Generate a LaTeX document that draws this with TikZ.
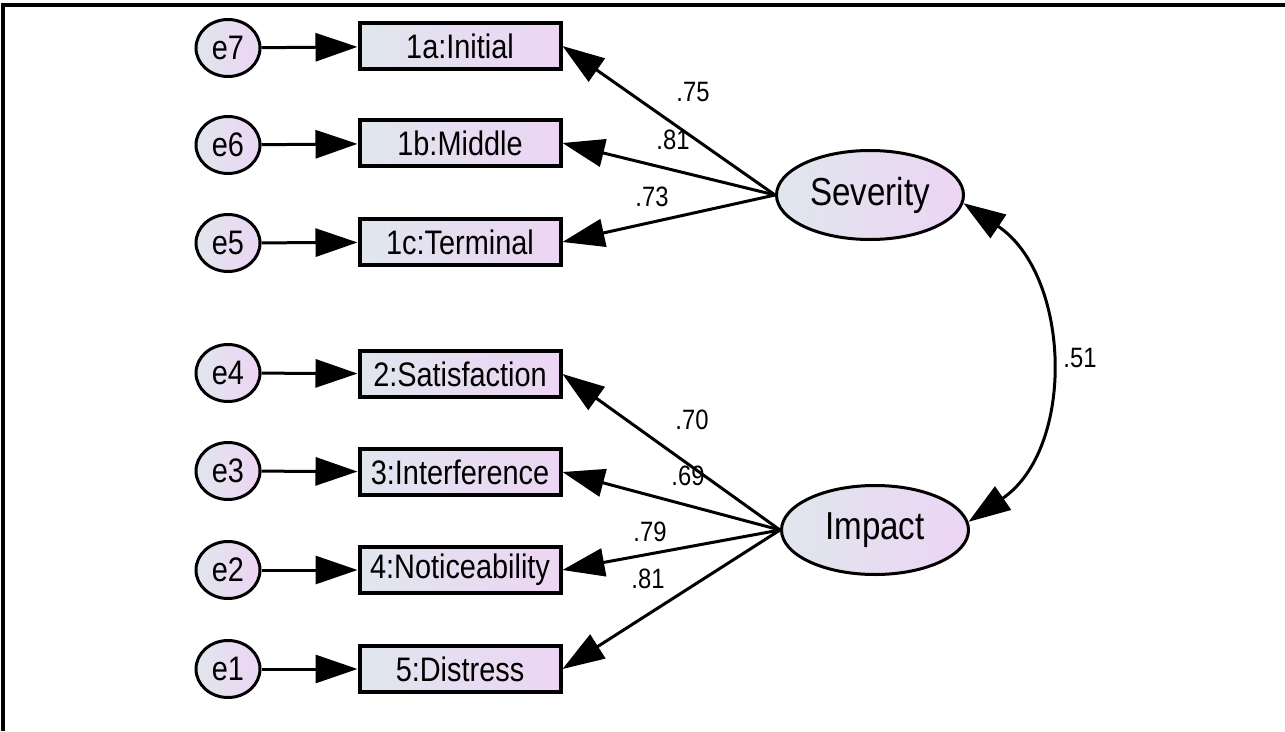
\documentclass[tikz,border=0pt]{standalone}
\usepackage{fontspec}
\setmainfont[FakeStretch=0.85]{Liberation Sans}
\usepackage{xcolor}
\usepackage{tikz}
\usetikzlibrary{positioning}
\usetikzlibrary{arrows.meta}
\usetikzlibrary{shapes.geometric}
\definecolor{paleblue}{RGB}{224,230,238}
\definecolor{palepink}{RGB}{236,213,243}
\tikzset {
  >={Triangle[length=42pt, width=28pt]},
  % measured variables
  observed/.style = {draw, rectangle, line width=4pt, minimum width=201pt, minimum height=46pt,
    inner sep=0pt, left color=paleblue, right color=palepink, font=\fontsize{34}{40}\selectfont},
  % error terms
  errvar/.style = {draw, ellipse, line width=3pt, minimum width=64pt, minimum height=57pt,
    inner sep=0pt, left color=paleblue, right color=palepink, font=\fontsize{34}{40}\selectfont},
  % latent factors
  latent/.style = {draw, ellipse, line width=3pt, minimum width=187pt, minimum height=89pt,
    inner sep=0pt, left color=paleblue, right color=palepink, font=\fontsize{39}{44}\selectfont},
  % regression weights and covariance
  loading/.style = {->, line width=3pt},
  coef/.style = {inner sep=0pt, font=\fontsize{28}{32}\selectfont},
}

\begin{document}
\begin{tikzpicture}[x=1pt, y=-1pt]
        \useasboundingbox (0,0) rectangle (1285,731);
        \draw [line width=4pt] (3,731) -- (3,5) -- (1285,5);

        \node[observed] (v1a) at (460, 46) {1a:Initial};
        \node[observed] (v1b) at (460, 143) {1b:Middle};
        \node[observed] (v1c) at (460, 242) {1c:Terminal};
        \node[observed] (v2) at (460, 374) {2:Satisfaction};
        \node[observed] (v3) at (460, 472) {3:Interference};
        \node[observed] (v4) at (460, 570) {4:Noticeability};
        \node[observed] (v5) at (460, 669) {5:Distress};

        \node[errvar] (e7) at (228, 48) {e7};
        \node[errvar] (e6) at (228, 145) {e6};
        \node[errvar] (e5) at (228, 243) {e5};
        \node[errvar] (e4) at (228, 373) {e4};
        \node[errvar] (e3) at (228, 471) {e3};
        \node[errvar] (e2) at (228, 570) {e2};
        \node[errvar] (e1) at (228, 669) {e1};

        \draw [loading] (e7) -- (v1a);
        \draw [loading] (e6) -- (v1b);
        \draw [loading] (e5) -- (v1c);
        \draw [loading] (e4) -- (v2);
        \draw [loading] (e3) -- (v3);
        \draw [loading] (e2) -- (v4);
        \draw [loading] (e1) -- (v5);

        \node[latent] (sev) at (870, 195) {Severity};
        \node[latent] (imp) at (875, 530) {Impact};

        \draw [loading] (sev.west) -- (v1a.east);
        \draw [loading] (sev.west) -- (v1b.east);
        \draw [loading] (sev.west) -- (v1c.east);

        \draw [loading] (imp.west) -- (v2.east);
        \draw [loading] (imp.west) -- (v3.east);
        \draw [loading] (imp.west) -- (v4.east);
        \draw [loading] (imp.west) -- (v5.east);

        \draw [loading, <->] (sev.-5) .. controls (1071, 275) and (1076, 448) .. (imp.5);

        \node[coef] (w1a) at (693, 92) {.75};
        \node[coef] (w1b) at (673, 140) {.81};
        \node[coef] (w1c) at (652, 197) {.73};
        \node[coef] (w2) at (692, 420) {.70};
        \node[coef] (w3) at (688, 476) {.69};
        \node[coef] (w4) at (650, 532) {.79};
        \node[coef] (w5) at (648, 579) {.81};
        \node[coef] (r) at (1080, 358) {.51};
      \end{tikzpicture}
\end{document}
